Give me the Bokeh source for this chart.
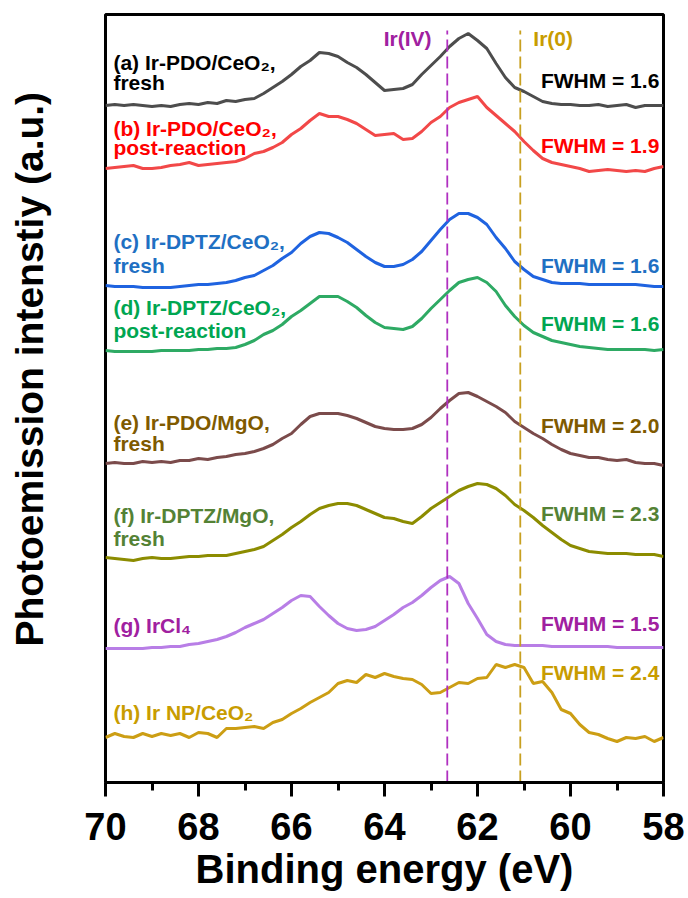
from bokeh.plotting import figure
from bokeh.models import Range1d, FixedTicker, ColumnDataSource, Title
from bokeh.core.properties import value
from bokeh.embed import file_html
from bokeh.resources import INLINE

# ---------------- data ----------------
energy = [70.0, 69.8, 69.6, 69.4, 69.2, 69.0, 68.8, 68.6, 68.4, 68.2,
          68.0, 67.8, 67.6, 67.4, 67.2, 67.0, 66.8, 66.6, 66.4, 66.2,
          66.0, 65.8, 65.6, 65.4, 65.2, 65.0, 64.8, 64.6, 64.4, 64.2,
          64.0, 63.8, 63.6, 63.4, 63.2, 63.0, 62.8, 62.6, 62.4, 62.2,
          62.0, 61.8, 61.6, 61.4, 61.2, 61.0, 60.8, 60.6, 60.4, 60.2,
          60.0, 59.8, 59.6, 59.4, 59.2, 59.0, 58.8, 58.6, 58.4, 58.2, 58.0]

ir_pdo_ceo2_fresh = [678, 679, 678, 679, 678, 677, 678, 677, 679, 680,
                     679, 681, 680, 683, 682, 684, 685, 690, 696, 702,
                     709, 717, 723, 731, 730, 727, 721, 716, 709, 701,
                     693, 694, 695, 699, 709, 718, 727, 737, 745, 750,
                     743, 735, 720, 706, 696, 692, 687, 682, 680, 679,
                     679, 678, 678, 679, 677, 678, 679, 676, 678, 678, 678]

ir_pdo_ceo2_post = [615, 616, 617, 618, 615, 615, 616, 618, 619, 621,
                    618, 619, 620, 621, 622, 625, 630, 632, 636, 641,
                    649, 655, 663, 670, 667, 667, 664, 660, 654, 648,
                    649, 650, 644, 645, 652, 661, 667, 676, 681, 684,
                    687, 676, 668, 660, 652, 642, 633, 625, 621, 619,
                    617, 615, 612, 613, 614, 613, 612, 613, 612, 615, 617]

ir_dptz_ceo2_fresh = [498, 497, 497, 497, 496, 496, 496, 496, 497, 498,
                      499, 499, 500, 501, 503, 506, 508, 513, 518, 525,
                      531, 540, 547, 551, 550, 546, 541, 534, 527, 521,
                      517, 517, 519, 524, 532, 543, 554, 564, 570, 570,
                      566, 559, 546, 535, 522, 514, 507, 504, 501, 500,
                      500, 500, 499, 499, 499, 499, 499, 499, 498, 497, 497]

ir_dptz_ceo2_post = [433, 432, 432, 432, 432, 432, 433, 433, 433, 433,
                     434, 434, 435, 435, 436, 439, 443, 449, 453, 459,
                     467, 473, 480, 487, 487, 487, 482, 476, 468, 461,
                     456, 455, 454, 457, 465, 475, 484, 493, 501, 504,
                     506, 501, 492, 478, 467, 458, 451, 447, 443, 441,
                     439, 437, 436, 435, 434, 434, 434, 434, 434, 433, 434]

ir_pdo_mgo_fresh = [320, 321, 320, 320, 322, 321, 322, 321, 323, 323,
                    325, 324, 326, 327, 329, 330, 332, 335, 339, 345,
                    350, 359, 367, 370, 370, 370, 368, 365, 361, 357,
                    355, 354, 354, 355, 359, 366, 375, 383, 390, 391,
                    387, 382, 377, 371, 362, 356, 350, 345, 339, 334,
                    330, 328, 326, 326, 324, 323, 324, 321, 320, 320, 318]

ir_dptz_mgo_fresh = [226, 225, 224, 223, 225, 226, 225, 225, 226, 227,
                     227, 228, 228, 228, 230, 232, 234, 237, 243, 249,
                     256, 262, 269, 275, 278, 280, 280, 278, 274, 270,
                     266, 265, 262, 260, 267, 275, 281, 287, 293, 297,
                     300, 299, 295, 288, 279, 273, 266, 258, 251, 244,
                     238, 235, 232, 231, 230, 230, 230, 229, 229, 229, 227]

ircl4 = [135, 135, 135, 135, 135, 136, 136, 137, 137, 139,
         140, 142, 144, 147, 151, 156, 160, 164, 170, 176,
         183, 188, 187, 177, 168, 160, 155, 153, 154, 157,
         163, 169, 176, 181, 188, 196, 203, 207, 200, 180,
         165, 149, 142, 139, 138, 138, 138, 138, 137, 137,
         137, 137, 137, 137, 137, 136, 136, 136, 136, 136, 136]

ir_np_ceo2 = [46, 50, 47, 46, 50, 47, 50, 48, 50, 46,
              51, 50, 46, 55, 55, 56, 57, 55, 61, 64,
              70, 75, 81, 86, 91, 100, 103, 101, 109, 106,
              110, 107, 105, 104, 99, 90, 91, 96, 101, 100,
              105, 106, 119, 116, 119, 116, 100, 102, 91, 74,
              70, 59, 51, 49, 45, 42, 46, 45, 47, 42, 46]

sample_names = ["(a) Ir-PDO/CeO\u2082,", "(b) Ir-PDO/CeO\u2082,", "(c) Ir-DPTZ/CeO\u2082,",
                "(d) Ir-DPTZ/CeO\u2082,", "(e) Ir-PDO/MgO,", "(f) Ir-DPTZ/MgO,",
                "(g) IrCl\u2084", "(h) Ir NP/CeO\u2082"]
sample_states = ["fresh", "post-reaction", "fresh", "post-reaction", "fresh", "fresh", "", ""]
fwhm = [1.6, 1.9, 1.6, 1.6, 2.0, 2.3, 1.5, 2.4]

ref_energy = [62.65, 61.08]          # Ir(IV), Ir(0)
ref_names = ["Ir(IV)", "Ir(0)"]

x_ticks = [70, 68, 66, 64, 62, 60, 58]
x_minor_ticks = [69, 67, 65, 63, 61, 59]

spectra = [ir_pdo_ceo2_fresh, ir_pdo_ceo2_post, ir_dptz_ceo2_fresh, ir_dptz_ceo2_post,
           ir_pdo_mgo_fresh, ir_dptz_mgo_fresh, ircl4, ir_np_ceo2]

# ---------------- styles / layout ----------------
line_colors = ["#4d4d4d", "#f24848", "#1f63e0", "#2eaa64",
               "#7b4b4b", "#8c8c00", "#b87ee6", "#cc9e14"]
text_colors = ["#000000", "#ff0000", "#1f70c3", "#00a651",
               "#7f5a00", "#548235", "#a020a0", "#c89c00"]
ref_colors = ["#b030c0", "#c8a020"]
ref_text_colors = ["#a020a0", "#c89c00"]

name_y = [721, 655, 542, 476, 361, 268, 158, 71]
state_y = [701, 636, 518, 453, 340, 245, None, None]
fwhm_y = [703, 638, 518, 460, 358, 270, 160, 111]
label_x = 69.83
fwhm_x = 58.09
ref_label_x = [62.99, 60.80]
ref_label_y = 745
ref_top = 753

FONT = value("Liberation Sans")

p = figure(width=688, height=898, output_backend="svg", toolbar_location=None,
           x_range=Range1d(70, 58), y_range=Range1d(1, 769),
           min_border_left=105, min_border_right=25, min_border_top=14,
           min_border_bottom=116)
p.background_fill_color = "white"
p.border_fill_color = "white"
p.grid.visible = False
p.outline_line_color = "black"
p.outline_line_width = 3

# curves
for ys, c in zip(spectra, line_colors):
    p.line(energy, ys, line_color=c, line_width=3)

# reference dashed lines
p.segment(x0=ref_energy, x1=ref_energy, y0=[1, 1], y1=[ref_top, ref_top],
          line_color=ref_colors, line_width=1.8, line_dash="12 5")

# reference labels
p.text(x=[ref_label_x[0]], y=[ref_label_y], text=[ref_names[0]], text_color=ref_text_colors[0],
       text_font=FONT, text_font_style="bold", text_font_size="21px",
       text_align="right", text_baseline="middle")
p.text(x=[ref_label_x[1]], y=[ref_label_y], text=[ref_names[1]], text_color=ref_text_colors[1],
       text_font=FONT, text_font_style="bold", text_font_size="21px",
       text_align="left", text_baseline="middle")

# sample labels
lx, ly, lt, lc = [], [], [], []
for i in range(8):
    lx.append(label_x); ly.append(name_y[i]); lt.append(sample_names[i]); lc.append(text_colors[i])
    if sample_states[i]:
        lx.append(label_x); ly.append(state_y[i]); lt.append(sample_states[i]); lc.append(text_colors[i])
src = ColumnDataSource(dict(x=lx, y=ly, t=lt, c=lc))
p.text(x="x", y="y", text="t", text_color="c", source=src,
       text_font=FONT, text_font_style="bold", text_font_size="21px",
       text_align="left", text_baseline="middle")

fsrc = ColumnDataSource(dict(x=[fwhm_x] * 8, y=fwhm_y,
                             t=["FWHM = %.1f" % v for v in fwhm], c=text_colors))
p.text(x="x", y="y", text="t", text_color="c", source=fsrc,
       text_font=FONT, text_font_style="bold", text_font_size="21px",
       text_align="right", text_baseline="middle")

# x axis
xa = p.xaxis[0]
xa.ticker = FixedTicker(ticks=x_ticks, minor_ticks=x_minor_ticks)
xa.axis_line_width = 3
xa.axis_line_color = "black"
xa.major_tick_in = 0
xa.major_tick_out = 14
xa.minor_tick_in = 0
xa.minor_tick_out = 8
xa.major_tick_line_width = 3
xa.minor_tick_line_width = 3
xa.major_label_text_font = "Liberation Sans"
xa.major_label_text_font_style = "bold"
xa.major_label_text_font_size = "38px"
xa.major_label_text_color = "black"
xa.major_label_standoff = 16

p.add_layout(Title(text="Binding energy (eV)", align="center", standoff=4,
                   text_font="Liberation Sans", text_font_style="bold",
                   text_font_size="40px", text_color="black"), "below")

# y axis: title only (leading spaces shift the centred title upwards)
ya = p.yaxis[0]
ya.ticker = FixedTicker(ticks=[])
ya.axis_line_color = None
ya.major_tick_line_color = None
ya.minor_tick_line_color = None
ya.axis_label = "\u2003\u2002Photoemission intenstiy (a.u.)"
ya.axis_label_text_font = "Liberation Sans"
ya.axis_label_text_font_style = "bold"
ya.axis_label_text_font_size = "39px"
ya.axis_label_text_color = "black"
ya.axis_label_standoff = 55

open("out.html", "w").write(file_html(p, INLINE))
